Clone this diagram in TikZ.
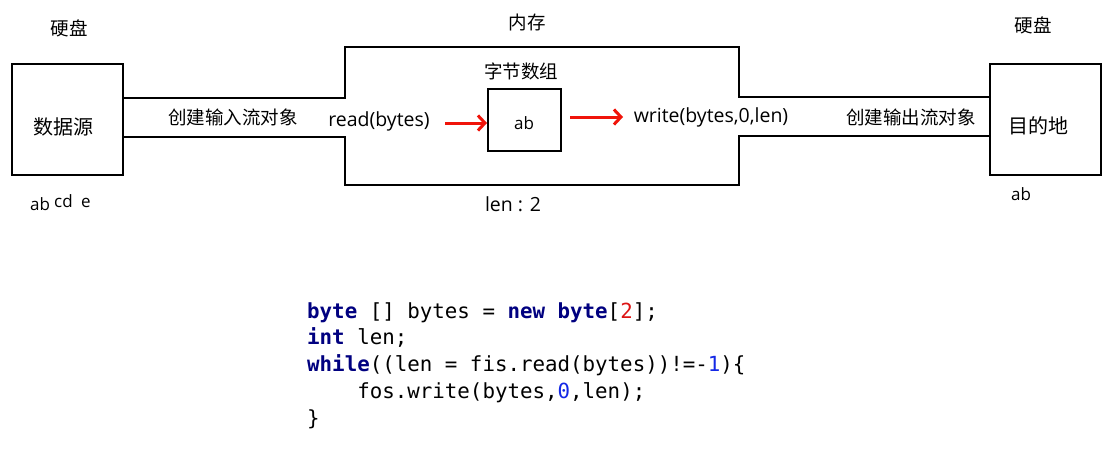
\documentclass[tikz,border=0pt]{standalone}
\usepackage{fontspec}
\setmainfont{Noto Sans CJK SC}
\newfontfamily\latinfont{Open Sans}
\newfontfamily\codefont{DejaVu Sans Mono}
\usetikzlibrary{arrows.meta}
\definecolor{kw}{RGB}{0,0,128}
\definecolor{numred}{RGB}{220,20,20}
\definecolor{numblue}{RGB}{20,40,230}
\definecolor{arrred}{RGB}{240,20,10}
\tikzset{
  disk/.style={draw, line width=2pt, minimum width=111pt, minimum height=111pt, inner sep=0pt},
  arr/.style={draw, line width=2pt, minimum width=73pt, minimum height=62pt, inner sep=0pt},
  cn/.style={font=\fontsize{18.5}{20}\selectfont, inner sep=0pt},
  cnbig/.style={font=\fontsize{20}{22}\selectfont, inner sep=0pt},
  lt/.style={font=\latinfont\fontsize{19.5}{22}\selectfont, inner sep=0pt},
  small/.style={font=\latinfont\fontsize{17}{20}\selectfont, inner sep=0pt},
  code/.style={font=\codefont\fontsize{20.8}{24}\selectfont, anchor=base west, inner sep=0pt},
  redarrow/.style={draw=arrred, line width=3pt, -{Straight Barb[length=7pt,width=15pt,line width=3pt]}},
  outline/.style={line width=2pt, line join=miter}
}
\begin{document}
\begin{tikzpicture}[x=1pt,y=-1pt]
\useasboundingbox[fill=white] (0,0) rectangle (1106,452);
% boxes
\node[disk] (src) at (67.5,119.5) {};
\node[disk] (dst) at (1045,119.5) {};
\node[arr] (buf) at (524.5,120) {};
\node[cnbig] (srct) at (64,127) {数据源};
\node[cnbig] (dstt) at (1038,126) {目的地};
\node[small] (buft) at (524,123) {ab};
% channel / memory outline
\coordinate (m1) at (345,98);
\coordinate (m2) at (345,47);
\coordinate (m3) at (739,47);
\coordinate (m4) at (739,97);
\coordinate (m5) at (739,136);
\coordinate (m6) at (739,185);
\coordinate (m7) at (345,185);
\coordinate (m8) at (345,137);
\draw[outline] (src.east |- m1) -- (m1) -- (m2) -- (m3) -- (m4) -- (dst.west |- m4);
\draw[outline] (dst.west |- m5) -- (m5) -- (m6) -- (m7) -- (m8) -- (src.east |- m8);
% labels
\node[cn] (l1) at (69,28) {硬盘};
\node[cn] (l2) at (1033,25) {硬盘};
\node[cn] (l3) at (527,22) {内存};
\node[cn] (l4) at (233,117) {创建输入流对象};
\node[cn] (l5) at (911,117) {创建输出流对象};
\node[cn] (l6) at (521,71) {字节数组};
\node[lt] (rd) at (379,121) {read(bytes)};
\node[lt] (wr) at (711,117) {write(bytes,0,len)};
\node[small, anchor=base west] (ab1) at (30,210) {ab};
\node[small, anchor=base west] (cd1) at (54,207) {cd};
\node[small, anchor=base west] (e1) at (81,207) {e};
\node[lt] (len) at (513,204) {len : 2};
\node[small] (ab2) at (1021,194) {ab};
% red arrows
\coordinate (a1s) at (445,123);
\coordinate (a2e) at (623,117);
\draw[redarrow] (a1s) -- (buf.west |- a1s);
\draw[redarrow] (buf.east |- a2e) ++(8,0) -- (a2e);
% code
\node[code] (c1) at (307,318) {\textcolor{kw}{\textbf{byte}} [] bytes = \textcolor{kw}{\textbf{new}} \textcolor{kw}{\textbf{byte}}[\textcolor{numred}{2}];};
\node[code] (c2) at (307,344.75) {\textcolor{kw}{\textbf{int}} len;};
\node[code] (c3) at (307,371.5) {\textcolor{kw}{\textbf{while}}((len = fis.read(bytes))!=-\textcolor{numblue}{1})\{};
\node[code] (c4) at (307,398.25) {\ \ \ \ fos.write(bytes,\textcolor{numblue}{0},len);};
\node[code] (c5) at (307,425) {\}};
\end{tikzpicture}
\end{document}
